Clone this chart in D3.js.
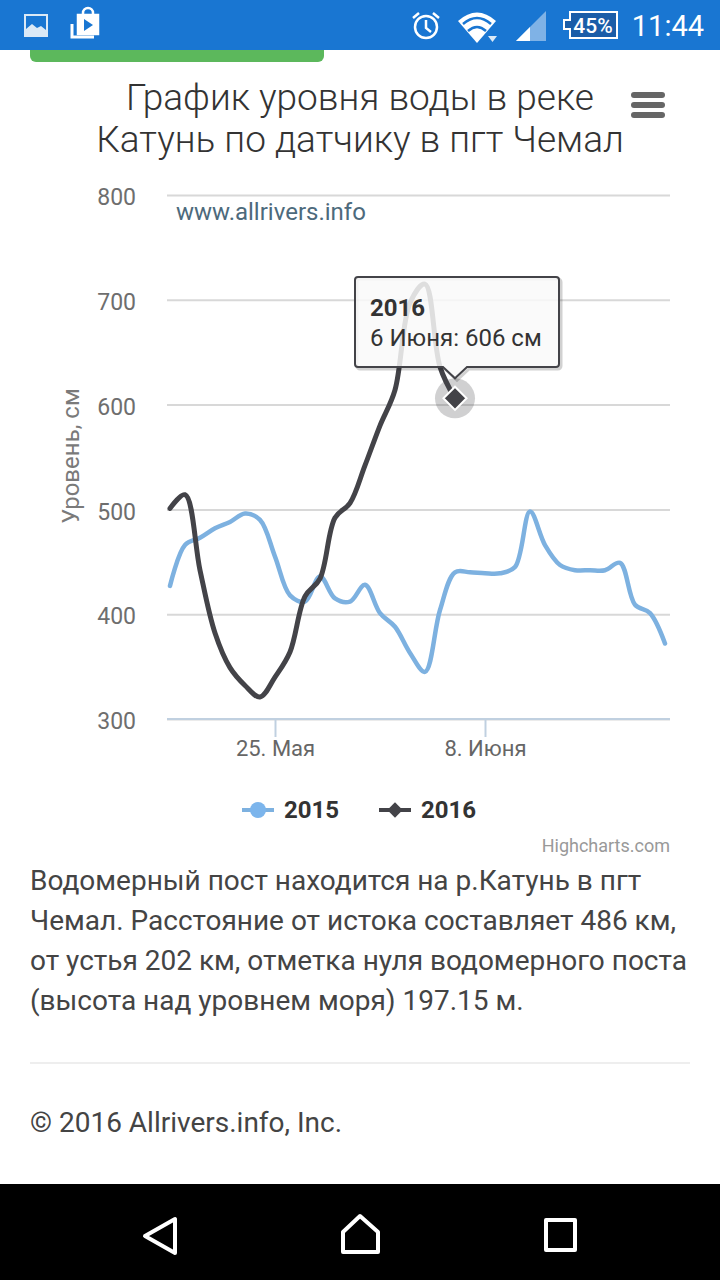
<!DOCTYPE html>
<html>
<head>
<meta charset="utf-8">
<script src="https://cdn.jsdelivr.net/npm/d3@7/dist/d3.min.js"></script>
<style>
  html, body { margin: 0; padding: 0; background: #fff; }
  svg { display: block; }
  text { font-family: Roboto, "Noto Sans", sans-serif; }
</style>
</head>
<body>
<svg id="page" width="720" height="1280"></svg>
<script>
// daily readings, first one is 18 May
const startDate = new Date(Date.UTC(2016, 4, 18));
const seriesNames = ["2015", "2016"];
const values2015 = [427, 466, 473, 482, 488, 496, 490, 455, 418, 412, 436, 415, 412, 428, 401, 388, 363, 345, 404, 440, 440, 439, 439, 445, 498, 466, 447, 442, 442, 442, 449, 409, 401, 372];
const values2016 = [501, 514, 442, 382, 349, 332, 321, 340, 364, 417, 434, 492, 506, 542, 580, 614, 697, 715, 636, 606];
const yTicks = [300, 400, 500, 600, 700, 800];
const xTickDates = [new Date(Date.UTC(2016, 4, 25)), new Date(Date.UTC(2016, 5, 8))];
const xTickLabels = ["25. Мая", "8. Июня"];
const paragraph = [
  "Водомерный пост находится на р.Катунь в пгт",
  "Чемал. Расстояние от истока составляет 486 км,",
  "от устья 202 км, отметка нуля водомерного поста",
  "(высота над уровнем моря) 197.15 м."
];

const blue = "#7cb5ec", dark = "#434348";
const svg = d3.select("#page");

const dateAt = i => d3.utcDay.offset(startDate, i);
const x = d3.scaleUtc().domain([dateAt(0), dateAt(33)]).range([170, 665]);
const y = d3.scaleLinear().domain([300, 800]).range([719, 195]);

// --- page chrome ---
svg.append("rect").attr("width", 720).attr("height", 50).attr("fill", "#1976d2");
svg.append("path").attr("d", "M30 50H324V56a6 6 0 0 1-6 6H36a6 6 0 0 1-6-6Z").attr("fill", "#5cb85c");
svg.append("rect").attr("y", 1184).attr("width", 720).attr("height", 96).attr("fill", "#000");

const status = svg.append("g");
status.append("rect").attr("x", 25).attr("y", 15).attr("width", 22).attr("height", 21).attr("fill", "none").attr("stroke", "#dbe9f6").attr("stroke-width", 2);
status.append("path").attr("d", "M26 35V29L32 24L37 28L41 26L46 30V35Z").attr("fill", "#dbe9f6");
status.append("path").attr("d", "M78 15H98V34H78Z M83 15V13a5 5 0 0 1 10 0V15").attr("fill", "none").attr("stroke", "#fff").attr("stroke-width", 2.5);
status.append("path").attr("d", "M78 15H98V34H78Z").attr("fill", "#fff");
status.append("path").attr("d", "M84 19L93 25L84 31Z").attr("fill", "#1976d2");
status.append("path").attr("d", "M72 24V37H94").attr("fill", "none").attr("stroke", "#fff").attr("stroke-width", 3);
status.append("circle").attr("cx", 426).attr("cy", 27).attr("r", 11).attr("fill", "none").attr("stroke", "#fff").attr("stroke-width", 2.5);
status.append("path").attr("d", "M426 20V28L431 32 M413 18L419 13 M439 18L433 13").attr("fill", "none").attr("stroke", "#fff").attr("stroke-width", 2.5);
status.append("path").attr("d", "M458 21Q477 4 496 21L477 43Z").attr("fill", "#fff");
status.append("path").attr("d", "M463 24Q477 12 491 24 M468 31Q477 23 486 31").attr("fill", "none").attr("stroke", "#1976d2").attr("stroke-width", 2.5);
status.append("path").attr("d", "M488 36H497L492.5 42Z").attr("fill", "#dbe9f6");
status.append("path").attr("d", "M516 41L546 11V41Z").attr("fill", "#7fb2e6");
status.append("path").attr("d", "M516 41L530 27V41Z").attr("fill", "#fff");
status.append("path").attr("d", "M570 12H617V38H570V29H564V20H570Z").attr("fill", "#1a5da8").attr("stroke", "#fff").attr("stroke-width", 2);
status.append("text").attr("x", 593).attr("y", 33).attr("text-anchor", "middle").attr("font-size", 21).attr("font-weight", 500).attr("fill", "#fff").text("45%");
status.append("text").attr("x", 704).attr("y", 36).attr("text-anchor", "end").attr("font-size", 29).attr("fill", "#fff").text("11:44");

const nav = svg.append("g").attr("fill", "none").attr("stroke", "#fff").attr("stroke-width", 4).attr("stroke-linejoin", "round");
nav.append("path").attr("d", "M145 1236L175 1219V1253Z");
nav.append("path").attr("d", "M343 1252V1232L360 1216L378 1232V1252Z");
nav.append("rect").attr("x", 546).attr("y", 1220).attr("width", 29).attr("height", 30);

// --- title ---
svg.append("text").attr("x", 360).attr("y", 110).attr("text-anchor", "middle").attr("font-size", 37).attr("font-weight", 300).attr("fill", "#333").text("График уровня воды в реке");
svg.append("text").attr("x", 360).attr("y", 152).attr("text-anchor", "middle").attr("font-size", 37).attr("font-weight", 300).attr("fill", "#333").text("Катунь по датчику в пгт Чемал");
svg.append("g").attr("fill", "#666").selectAll("rect").data(["a", "b", "c"]).join("rect")
  .attr("x", 631).attr("y", (d, i) => 92 + i * 10).attr("width", 34).attr("height", 6).attr("rx", 3);

// --- axes ---
const yAxis = svg.append("g").attr("transform", "translate(167,0)")
  .call(d3.axisLeft(y).tickValues(yTicks).tickSize(-503).tickPadding(31));
yAxis.select(".domain").remove();
yAxis.selectAll("line").attr("stroke", "#d8d8d8").attr("stroke-width", 2);
yAxis.selectAll("text").attr("font-size", 23).attr("fill", "#6e6e6e").attr("dy", "0.42em").style("font-family", "Roboto");

const xAxis = svg.append("g").attr("transform", "translate(0,719)")
  .call(d3.axisBottom(x).tickValues(xTickDates).tickSize(18).tickPadding(3).tickFormat((d, i) => xTickLabels[i]));
xAxis.select(".domain").attr("d", "M167 0H670").attr("stroke", "#c0d0e0").attr("stroke-width", 2);
xAxis.selectAll("line").attr("stroke", "#c0d0e0").attr("stroke-width", 2);
xAxis.selectAll("text").attr("font-size", 22).attr("fill", "#666").style("font-family", "Roboto");

svg.append("text").attr("transform", "translate(79,456) rotate(-90)").attr("text-anchor", "middle").attr("font-size", 24).attr("fill", "#7a7a7a").text("Уровень, см");
svg.append("text").attr("x", 176).attr("y", 220).attr("font-size", 24).attr("fill", "#4d6a7c").text("www.allrivers.info");

// --- series ---
const line = d3.line().x((d, i) => x(dateAt(i))).y(d => y(d)).curve(d3.curveCatmullRom.alpha(0.5));
svg.append("path").datum(values2015).attr("d", line).attr("fill", "none").attr("stroke", "#7db1e0").attr("stroke-width", 4.5).attr("stroke-linecap", "round");
svg.append("path").datum(values2016).attr("d", line).attr("fill", "none").attr("stroke", dark).attr("stroke-width", 5).attr("stroke-linecap", "round");

// hovered point
const lastIdx = values2016.length - 1;
const hx = x(dateAt(lastIdx)), hy = y(values2016[lastIdx]);
const diamond = d3.symbol().type(d3.symbolDiamond2);
svg.append("circle").attr("cx", hx).attr("cy", hy).attr("r", 20).attr("fill", dark).attr("fill-opacity", 0.25);
svg.append("path").attr("transform", `translate(${hx},${hy})`).attr("d", diamond.size(340)()).attr("fill", dark).attr("stroke", "#fff").attr("stroke-width", 2);

// --- tooltip ---
const tipPath = `M358 277H556a3 3 0 0 1 3 3V364a3 3 0 0 1-3 3H467L${hx} ${hy - 20}L443 367H358a3 3 0 0 1-3-3V280a3 3 0 0 1 3-3Z`;
svg.append("path").attr("d", tipPath).attr("transform", "translate(2,2)").attr("fill", "none").attr("stroke", "#000").attr("stroke-opacity", 0.18).attr("stroke-width", 3);
svg.append("path").attr("d", tipPath).attr("fill", "#f9f9f9").attr("fill-opacity", 0.85).attr("stroke", dark).attr("stroke-width", 2);
svg.append("text").attr("x", 370).attr("y", 316).attr("font-size", 24).attr("font-weight", 700).attr("fill", "#333").text(seriesNames[1]);
svg.append("text").attr("x", 370).attr("y", 346).attr("font-size", 24).attr("fill", "#333").text("6 Июня: " + values2016[lastIdx] + " см");

// --- legend ---
const legend = svg.append("g");
legend.append("line").attr("x1", 242).attr("x2", 274).attr("y1", 810).attr("y2", 810).attr("stroke", "#7db1e0").attr("stroke-width", 4);
legend.append("circle").attr("cx", 258).attr("cy", 810).attr("r", 8).attr("fill", blue);
legend.append("text").attr("x", 284).attr("y", 818).attr("font-size", 24).attr("font-weight", 700).attr("fill", "#333").text(seriesNames[0]);
legend.append("line").attr("x1", 379).attr("x2", 411).attr("y1", 810).attr("y2", 810).attr("stroke", dark).attr("stroke-width", 4);
legend.append("path").attr("transform", "translate(395,810)").attr("d", diamond.size(150)()).attr("fill", dark);
legend.append("text").attr("x", 421).attr("y", 818).attr("font-size", 24).attr("font-weight", 700).attr("fill", "#333").text(seriesNames[1]);

svg.append("text").attr("x", 670).attr("y", 852).attr("text-anchor", "end").attr("font-size", 18).attr("fill", "#999").text("Highcharts.com");

// --- text below the chart ---
svg.append("g").selectAll("text").data(paragraph).join("text")
  .attr("x", 30).attr("y", (d, i) => 890 + i * 40).attr("font-size", 28).attr("fill", "#444").text(d => d);
svg.append("line").attr("x1", 30).attr("x2", 690).attr("y1", 1063).attr("y2", 1063).attr("stroke", "#eee").attr("stroke-width", 2);
svg.append("text").attr("x", 30).attr("y", 1132).attr("font-size", 28).attr("fill", "#444").text("© 2016 Allrivers.info, Inc.");
</script>
</body>
</html>
